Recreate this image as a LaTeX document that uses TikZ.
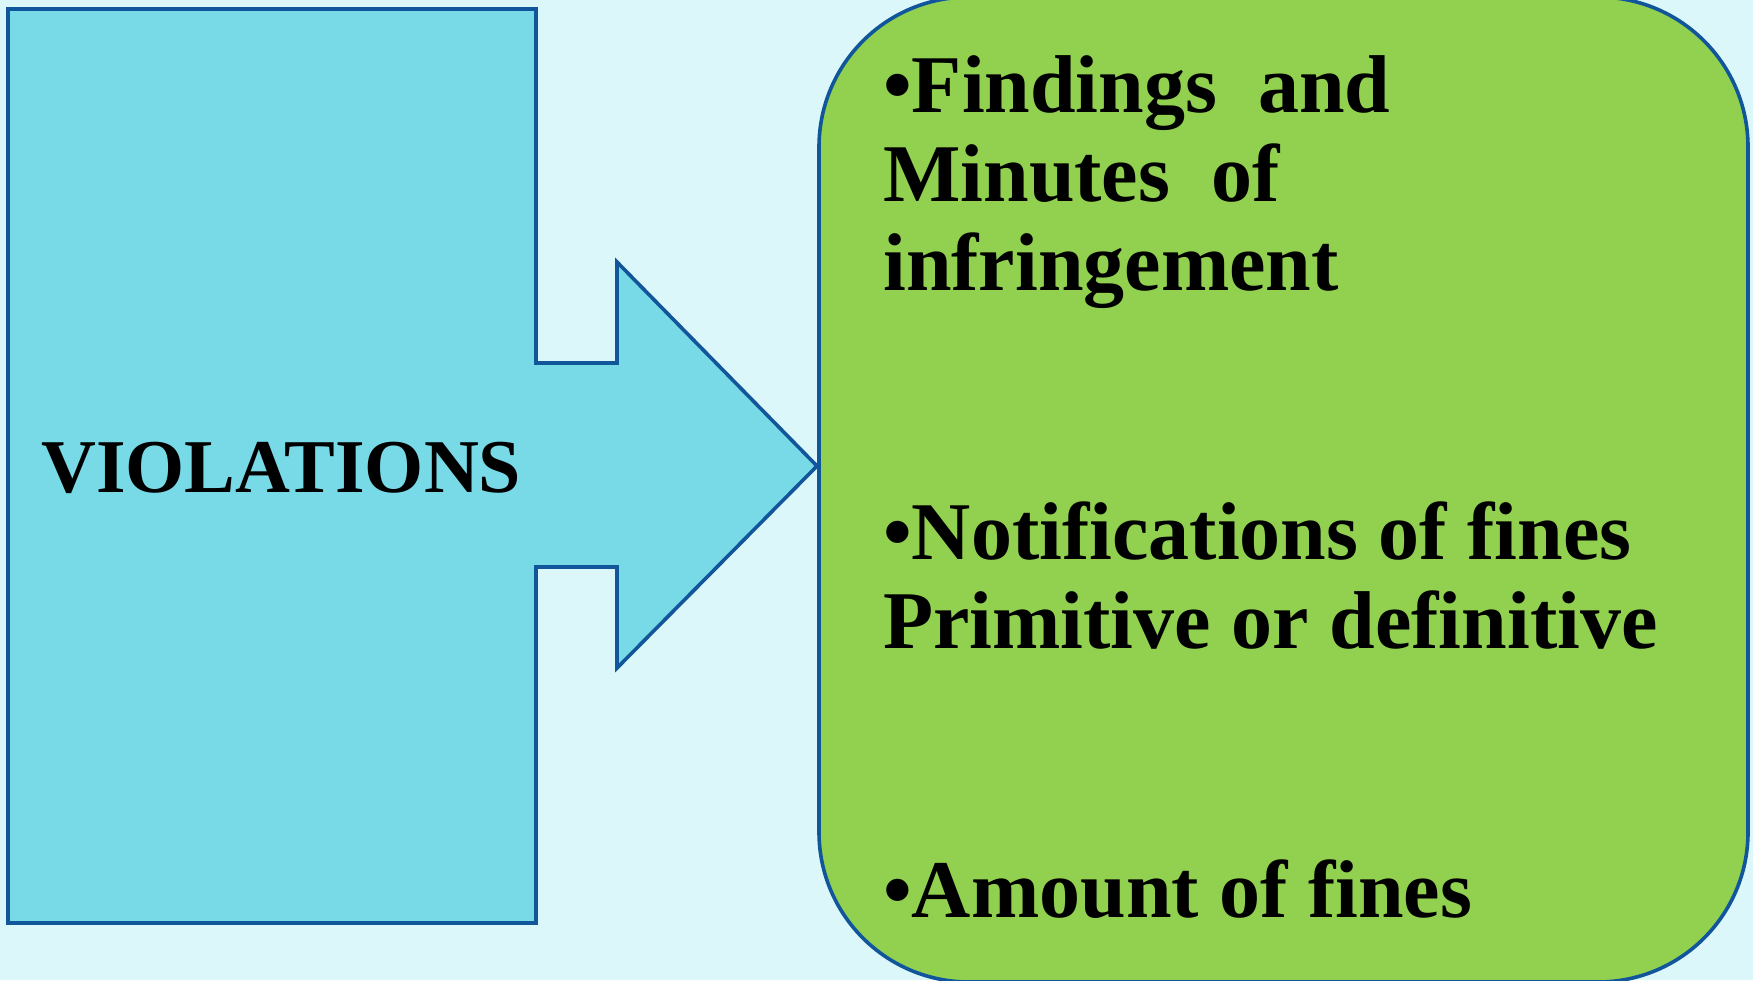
\documentclass[tikz,border=0pt]{standalone}
\usepackage{fontspec}
\setmainfont{Liberation Serif}
\definecolor{bgc}{HTML}{DCF7FA}
\definecolor{bluefill}{HTML}{78D9E7}
\definecolor{greenfill}{HTML}{92D150}
\definecolor{edgec}{HTML}{11559A}
\tikzset{
  shapeline/.style={draw=edgec, line width=3.6pt, line join=miter},
  bigtext/.style={font=\fontsize{82}{89}\selectfont\bfseries, text=black, inner sep=0pt, anchor=base west},
}
\begin{document}
\begin{tikzpicture}[x=1pt,y=-1pt]
\useasboundingbox (0,0) rectangle (1753,980);
\fill[bgc] (0,0) rectangle (1753,980);
\begin{scope}
\clip (0,0) rectangle (1753,980);
% blue block arrow
\path[shapeline, fill=bluefill] (8,9) -- (536,9) -- (536,363) -- (617,363) -- (617,262) -- (817,466)
  -- (617,668) -- (617,567) -- (536,567) -- (536,923) -- (8,923) -- cycle;
% green rounded box
\path[shapeline, fill=greenfill, rounded corners=150pt] (819,-3) rectangle (1748,982);
\end{scope}
\node[bigtext, font=\fontsize{76}{89}\selectfont\bfseries] (viol) at (41,492) {VIOLATIONS};
\node[bigtext] (l1) at (883,112) {•Findings~ and};
\node[bigtext] (l2) at (883,201) {Minutes~ of};
\node[bigtext] (l3) at (883,290) {infringement};
\node[bigtext] (l4) at (883,559) {•Notifications of fines};
\node[bigtext] (l5) at (883,648) {Primitive or definitive};
\node[bigtext] (l6) at (883,917) {•Amount of fines};
\end{tikzpicture}
\end{document}
